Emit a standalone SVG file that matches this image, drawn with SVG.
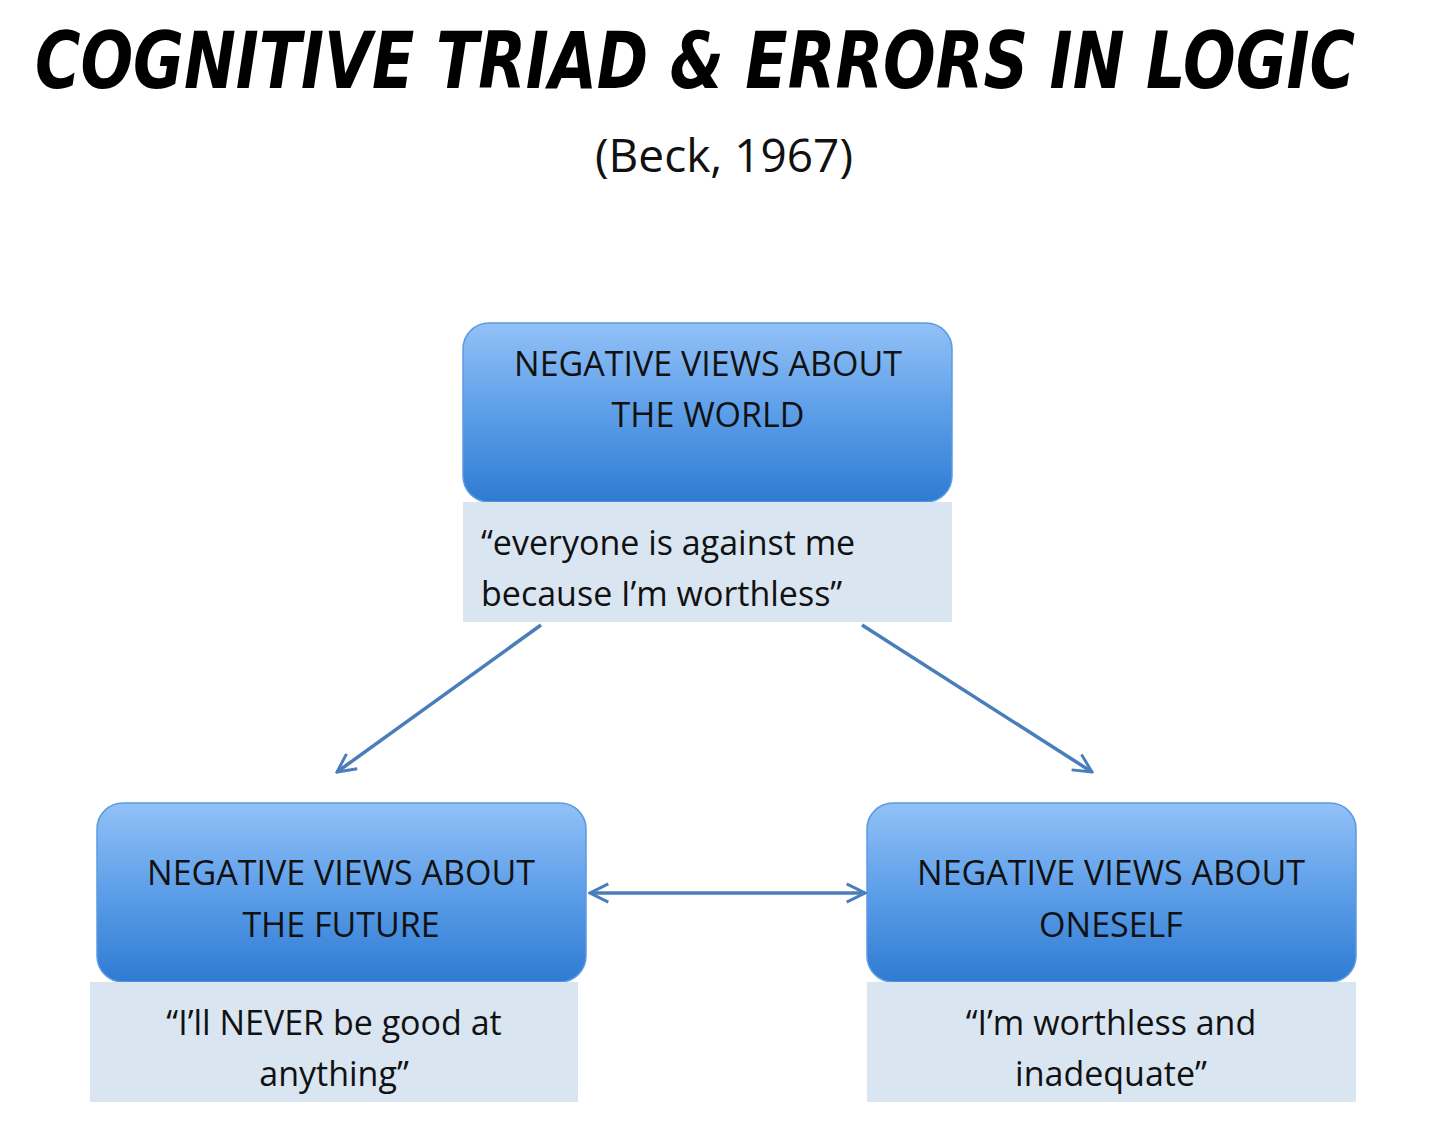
<svg xmlns="http://www.w3.org/2000/svg" width="1440" height="1131" viewBox="0 0 1440 1131">
<style>
.box{fill:url(#g);stroke:#5b9be0;stroke-width:1.5}
.note{fill:#dae5f2}
.t{font-family:"Open Sans","Liberation Sans",sans-serif;font-size:34px;fill:#111;text-anchor:middle}
.c{stroke:#4a7ebb;stroke-width:3.5;fill:none;marker-end:url(#a)}
</style>
<defs>
<linearGradient id="g" x1="0" y1="0" x2="0" y2="1">
<stop offset="0" stop-color="#92c1f7"/><stop offset="0.5" stop-color="#5c9ee8"/><stop offset="1" stop-color="#2f7bd3"/>
</linearGradient>
<marker id="a" viewBox="0 0 12 12" refX="11" refY="6" markerWidth="22" markerHeight="22" orient="auto-start-reverse" markerUnits="userSpaceOnUse">
<path d="M1,1 L11,6 L1,11" fill="none" stroke="#4a7ebb" stroke-width="1.6"/>
</marker>
</defs>
<rect width="1440" height="1131" fill="#fff"/>
<text x="695" y="88" font-family="DejaVu Sans Condensed,sans-serif" font-weight="bold" font-style="italic" font-size="78" text-anchor="middle" textLength="1320" lengthAdjust="spacingAndGlyphs" fill="#000">COGNITIVE TRIAD &amp; ERRORS IN LOGIC</text>
<text x="724" y="172" font-family="Open Sans,Liberation Sans,sans-serif" font-size="46" text-anchor="middle" fill="#111">(Beck, 1967)</text>
<g id="world">
<rect class="box" x="463" y="323" width="489" height="179" rx="26"/>
<text class="t" x="708" y="376">NEGATIVE VIEWS ABOUT</text>
<text class="t" x="708" y="427">THE WORLD</text>
<rect class="note" x="463" y="502" width="489" height="120"/>
<text class="t" x="481" y="555" style="text-anchor:start">“everyone is against me</text>
<text class="t" x="481" y="606" style="text-anchor:start">because I’m worthless”</text>
</g>
<g id="future">
<rect class="box" x="97" y="803" width="489" height="179" rx="26"/>
<text class="t" x="341" y="885">NEGATIVE VIEWS ABOUT</text>
<text class="t" x="341" y="937">THE FUTURE</text>
<rect class="note" x="90" y="982" width="488" height="120"/>
<text class="t" x="334" y="1035">“I’ll NEVER be good at</text>
<text class="t" x="334" y="1086">anything”</text>
</g>
<g id="oneself">
<rect class="box" x="867" y="803" width="489" height="179" rx="26"/>
<text class="t" x="1111" y="885">NEGATIVE VIEWS ABOUT</text>
<text class="t" x="1111" y="937">ONESELF</text>
<rect class="note" x="867" y="982" width="489" height="120"/>
<text class="t" x="1111" y="1035">“I’m worthless and</text>
<text class="t" x="1111" y="1086">inadequate”</text>
</g>
<g id="connectors">
<line class="c" x1="541" y1="625" x2="337" y2="772"/>
<line class="c" x1="862" y1="625" x2="1092" y2="772"/>
<line class="c" x1="590" y1="893" x2="865" y2="893" style="marker-start:url(#a)"/>
</g>
</svg>
